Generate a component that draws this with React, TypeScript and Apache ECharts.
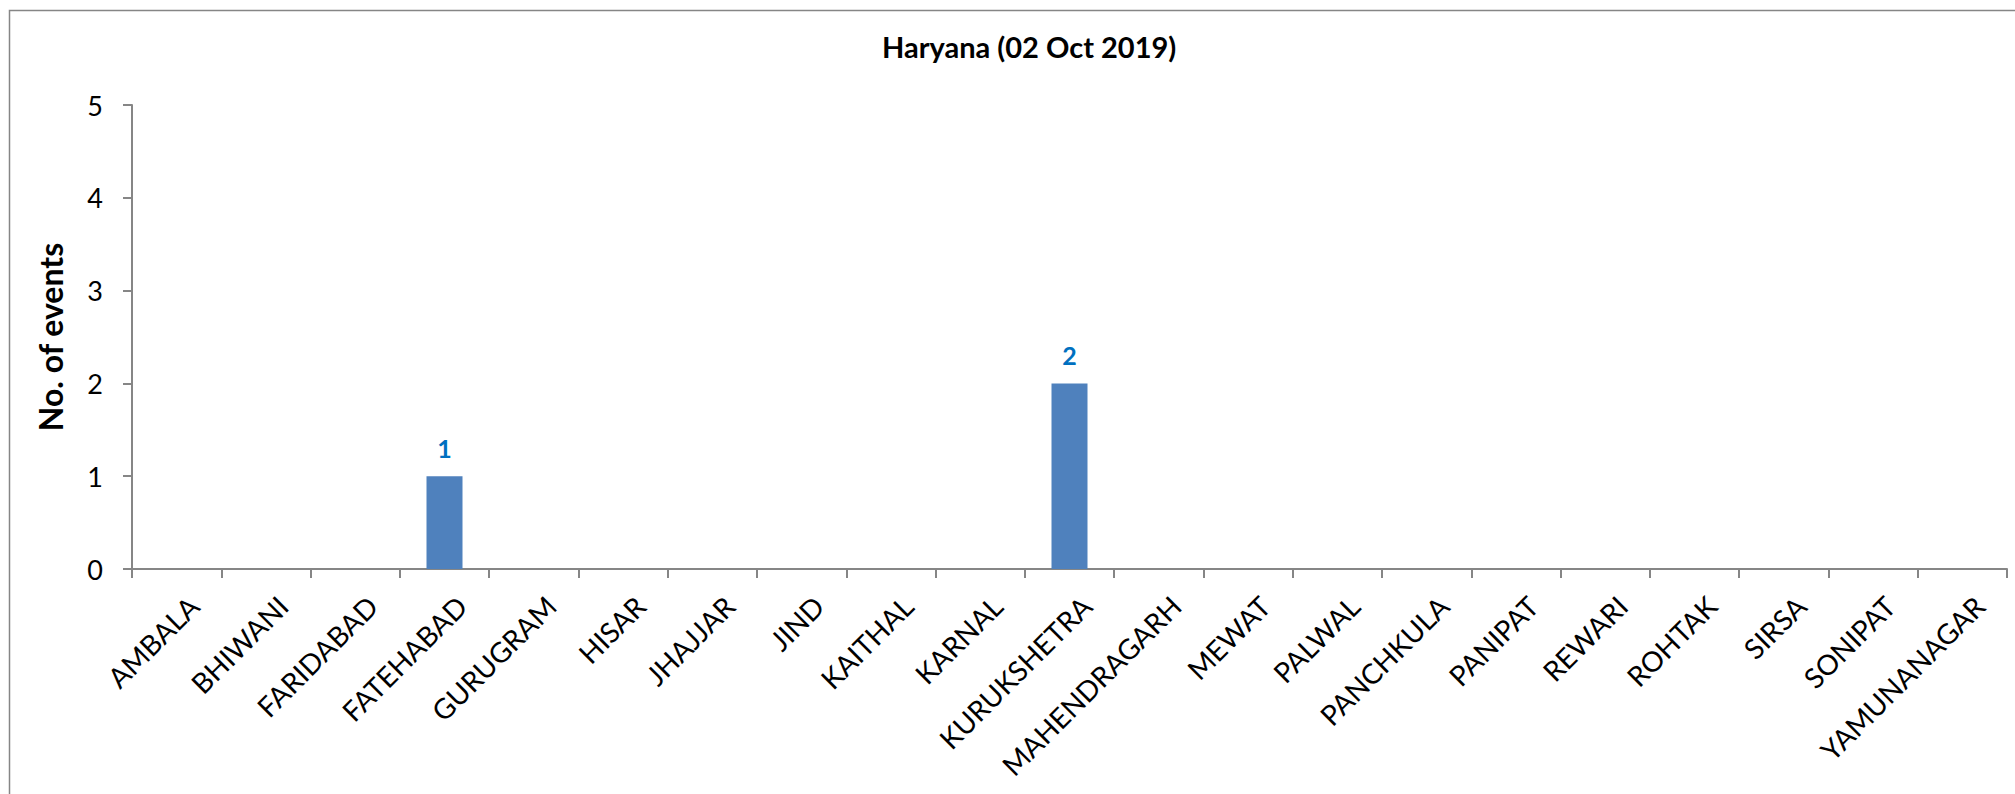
import React, { useEffect, useRef } from "react";
import * as echarts from "echarts";

// Districts of Haryana and the number of events recorded on 02 Oct 2019
const districts: string[] = [
  "AMBALA", "BHIWANI", "FARIDABAD", "FATEHABAD", "GURUGRAM", "HISAR", "JHAJJAR",
  "JIND", "KAITHAL", "KARNAL", "KURUKSHETRA", "MAHENDRAGARH", "MEWAT", "PALWAL",
  "PANCHKULA", "PANIPAT", "REWARI", "ROHTAK", "SIRSA", "SONIPAT", "YAMUNANAGAR",
];
const eventCounts: number[] = [0, 0, 0, 1, 0, 0, 0, 0, 0, 0, 2, 0, 0, 0, 0, 0, 0, 0, 0, 0, 0];
const yTicks: number[] = [0, 1, 2, 3, 4, 5];

const chartTitle = "Haryana (02 Oct 2019)";
const yAxisTitle = "No. of events";

const FONT = "Lato, 'Open Sans', sans-serif";
const AXIS_GREY = "#868686";

export default function App() {
  const ref = useRef<HTMLDivElement | null>(null);

  useEffect(() => {
    document.body.style.margin = "0";
    if (!ref.current) return;
    const chart = echarts.init(ref.current, null, { renderer: "svg" });

    chart.setOption({
      animation: false,
      backgroundColor: "#ffffff",
      textStyle: { fontFamily: FONT },
      title: {
        text: chartTitle,
        left: 877,
        top: 27,
        textStyle: { fontFamily: FONT, fontSize: 29, fontWeight: "bold", color: "#000" },
      },
      graphic: [
        {
          // chart-area frame; its right and bottom edges run past the canvas
          type: "rect",
          silent: true,
          shape: { x: 9.5, y: 10.5, width: 2200, height: 1000 },
          style: { fill: "none", stroke: AXIS_GREY, lineWidth: 1.5 },
        },
      ],
      grid: { left: 132, right: 8, top: 105, bottom: 225, containLabel: false },
      xAxis: {
        type: "category",
        data: districts,
        boundaryGap: true,
        axisLine: { show: true, lineStyle: { color: AXIS_GREY, width: 2 } },
        axisTick: { show: true, length: 9, lineStyle: { color: AXIS_GREY, width: 2 } },
        axisLabel: {
          interval: 0,
          rotate: 45,
          margin: 15,
          align: "right",
          verticalAlign: "top",
          padding: [10, 0, 0, 0],
          fontFamily: FONT,
          fontSize: 28,
          color: "#000",
        },
        splitLine: { show: false },
      },
      yAxis: {
        type: "value",
        min: yTicks[0],
        max: yTicks[yTicks.length - 1],
        interval: 1,
        name: yAxisTitle,
        nameLocation: "middle",
        nameGap: 66,
        nameRotate: 90,
        nameTextStyle: { fontFamily: FONT, fontSize: 32, fontWeight: "bold", color: "#000" },
        axisLine: { show: true, lineStyle: { color: AXIS_GREY, width: 2 } },
        axisTick: { show: true, length: 9, lineStyle: { color: AXIS_GREY, width: 2 } },
        axisLabel: { margin: 29, fontFamily: FONT, fontSize: 27, color: "#000" },
        splitLine: { show: false },
      },
      series: [
        {
          type: "bar",
          data: eventCounts.map((v) => ({
            value: v,
            label: { show: v > 0 },
          })),
          barWidth: 36,
          itemStyle: { color: "#4F81BD" },
          label: {
            position: "top",
            distance: 16,
            fontFamily: FONT,
            fontSize: 25,
            fontWeight: "bold",
            color: "#0070C0",
          },
        },
      ],
    });

    return () => chart.dispose();
  }, []);

  return <div ref={ref} style={{ width: 2015, height: 794 }} />;
}
